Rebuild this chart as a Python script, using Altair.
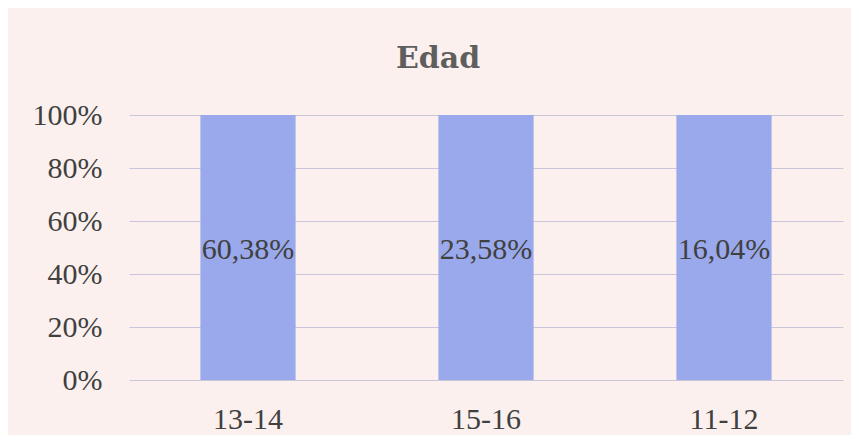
import altair as alt
import pandas as pd

categories = ["13-14", "15-16", "11-12"]
values = [60.38, 23.58, 16.04]

df = pd.DataFrame({"edad": categories, "valor": values})

base = alt.Chart(df)

bars = base.mark_bar(color="#9aa9eb").encode(
    x=alt.X("edad:N", sort=categories,
            scale=alt.Scale(paddingInner=0.6, paddingOuter=0.3),
            axis=alt.Axis(title=None, labelAngle=0, ticks=False, domain=False,
                          labelPadding=24, labelFontSize=30, labelFont="Liberation Serif",
                          labelColor="#404040")),
    y=alt.Y("valor:Q", stack="normalize",
            scale=alt.Scale(domain=[0, 1]),
            axis=alt.Axis(title=None, format=".0%", values=[0, 0.2, 0.4, 0.6, 0.8, 1.0],
                          ticks=False, domain=False, labelPadding=27,
                          labelFontSize=30, labelFont="Liberation Serif",
                          labelColor="#404040", gridColor="#c9c6dc", gridWidth=1)),
)

labels = base.transform_calculate(
    mid="0.5",
    txt="replace(format(datum.valor, '.2f'), '.', ',') + '%'",
).mark_text(font="Liberation Serif", fontSize=30, color="#404040", baseline="middle", dy=2).encode(
    x=alt.X("edad:N", sort=categories),
    y=alt.Y("mid:Q"),
    text="txt:N",
)

chart = alt.layer(bars, labels).properties(
    width=714,
    height=265,
    title=alt.TitleParams("Edad", font="DejaVu Serif", fontSize=30, fontWeight="bold",
                          color="#5e5e5e", offset=26, dx=-48),
    autosize=alt.AutoSizeParams(type="none"),
    padding={"left": 121, "top": 107, "right": 8, "bottom": 55},
    background="#fcf0ef",
).configure_view(stroke=None)

chart.save("out.html", embed_options={"renderer": "svg", "actions": False})
